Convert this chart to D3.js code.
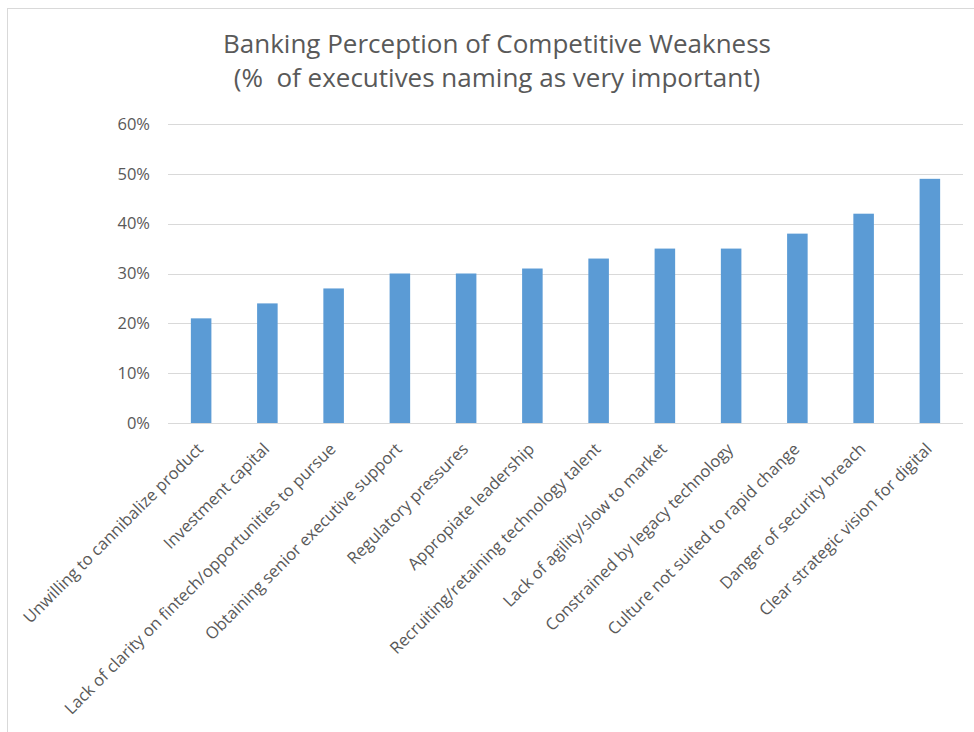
<!DOCTYPE html>
<html><head><meta charset="utf-8">
<script src="https://cdn.jsdelivr.net/npm/d3@7"></script>
<style>body{margin:0;background:#fff}svg{display:block}</style>
</head><body>
<svg id="chart" width="974" height="732"></svg>
<script>
const categories = ["Unwilling to cannibalize product","Investment capital","Lack of clarity on fintech/opportunities to pursue","Obtaining senior executive support","Regulatory pressures","Appropiate leadership","Recruiting/retaining technology talent","Lack of agility/slow to market","Constrained by legacy technology","Culture not suited to rapid change","Danger of security breach","Clear strategic vision for digital"];
const values = [0.21,0.24,0.27,0.30,0.30,0.31,0.33,0.35,0.35,0.38,0.42,0.49];
const yTicks = [0,0.1,0.2,0.3,0.4,0.5,0.6];
const titleLines = ["Banking Perception of Competitive Weakness","(%  of executives naming as very important)"];

const svg = d3.select("#chart");
const font = "'Open Sans', sans-serif";
const grey = "#595959";
svg.append("rect").attr("x",7.5).attr("y",8.5).attr("width",1000).attr("height",1000)
  .attr("fill","#fff").attr("stroke","#d9d9d9");

const x = d3.scaleBand().domain(categories).range([168,963]).paddingInner(0.69).paddingOuter(0.345);
const y = d3.scaleLinear().domain([0,0.6]).range([423,124]);

svg.append("g").selectAll("line").data(yTicks).join("line")
  .attr("x1",168).attr("x2",963).attr("y1",d=>Math.round(y(d))+0.5).attr("y2",d=>Math.round(y(d))+0.5)
  .attr("stroke","#d9d9d9").attr("stroke-width",1);

svg.append("g").selectAll("text").data(yTicks).join("text")
  .attr("x",150).attr("y",d=>y(d)).attr("dy","0.35em").attr("text-anchor","end")
  .attr("font-family",font).attr("font-size",16.5).attr("fill",grey)
  .text(d3.format(".0%"));

svg.append("g").selectAll("rect").data(values).join("rect")
  .attr("x",(d,i)=>x(categories[i])).attr("width",x.bandwidth())
  .attr("y",d=>y(d)).attr("height",d=>y(0)-y(d)).attr("fill","#5b9bd5");

svg.append("g").selectAll("text").data(categories).join("text")
  .attr("transform",d=>`translate(${x(d)+x.bandwidth()/2-1},${446}) rotate(-45)`)
  .attr("text-anchor","end").attr("dy","0.35em")
  .attr("font-family",font).attr("font-size",16.5).attr("fill",grey)
  .text(d=>d);

svg.append("g").selectAll("text").data(titleLines).join("text")
  .attr("x",497).attr("y",(d,i)=>53+i*34).attr("text-anchor","middle")
  .attr("font-family",font).attr("font-size",26).attr("fill",grey)
  .style("white-space","pre").text(d=>d);
</script>
</body></html>
